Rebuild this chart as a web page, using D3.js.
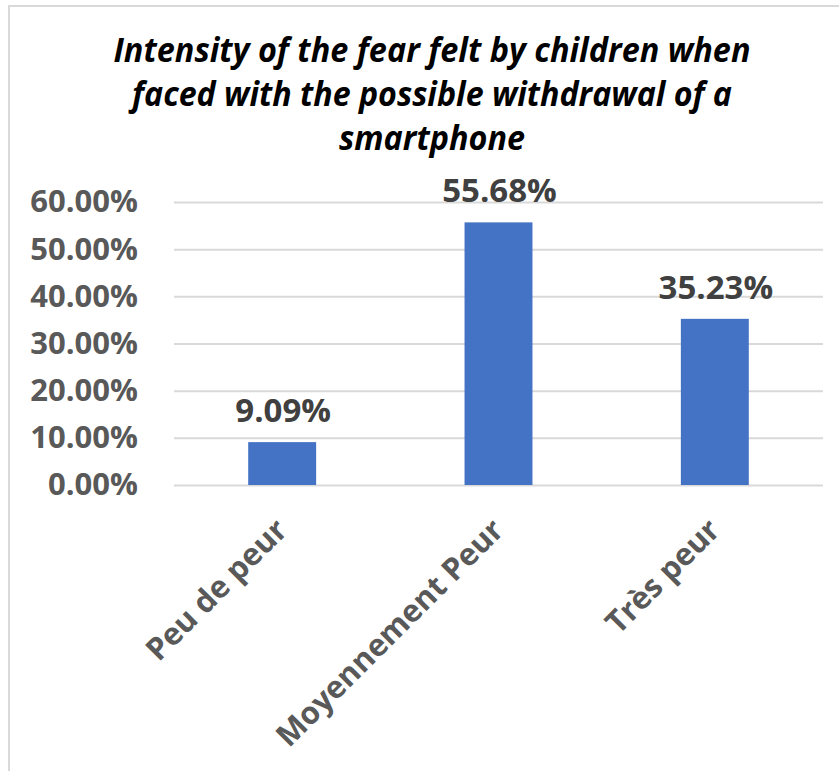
<!DOCTYPE html>
<html>
<head>
<meta charset="utf-8">
<script src="https://cdn.jsdelivr.net/npm/d3@7"></script>
<style>
  html, body { margin: 0; padding: 0; background: #fff; }
  svg { display: block; }
</style>
</head>
<body>
<svg id="chart" width="839" height="771"></svg>
<script>
// Survey answers and their shares
const categories = ["Peu de peur", "Moyennement Peur", "Très peur"];
const values = [0.0909, 0.5568, 0.3523];
const yTicks = [0, 0.1, 0.2, 0.3, 0.4, 0.5, 0.6];
const titleLines = [
  "Intensity of the fear felt by children when",
  "faced with the possible withdrawal of a",
  "smartphone"
];

const svg = d3.select("#chart");
const W = 839, H = 771;
const plot = { left: 174, right: 823, top: 202, bottom: 485 };

// Chart area frame
svg.append("rect")
  .attr("x", 9).attr("y", 6)
  .attr("width", W + 50).attr("height", H + 50)
  .attr("fill", "#fff")
  .attr("stroke", "#d9d9d9").attr("stroke-width", 2);

// Title
const titleWidths = [637, 600, 186];
svg.append("g").selectAll("text")
  .data(titleLines)
  .join("text")
  .attr("x", 432)
  .attr("y", (d, i) => 62 + i * 44)
  .attr("text-anchor", "middle")
  .attr("font-family", "'Open Sans', sans-serif")
  .attr("font-style", "italic")
  .attr("font-weight", 700)
  .attr("font-size", 34)
  .attr("fill", "#000")
  .attr("textLength", (d, i) => titleWidths[i])
  .attr("lengthAdjust", "spacingAndGlyphs")
  .text(d => d);

const x = d3.scaleBand()
  .domain(categories)
  .range([plot.left, plot.right])
  .paddingInner(0.686)
  .paddingOuter(0.343);

const y = d3.scaleLinear()
  .domain([0, 0.6])
  .range([plot.bottom, plot.top]);

// Value axis with gridlines
const yAxis = svg.append("g")
  .attr("transform", `translate(${plot.left},0)`)
  .call(d3.axisLeft(y)
    .tickValues(yTicks)
    .tickSize(-(plot.right - plot.left))
    .tickPadding(36)
    .tickFormat(d3.format(".2%")));
yAxis.select(".domain").remove();
yAxis.selectAll(".tick line")
  .attr("stroke", "#d9d9d9").attr("stroke-width", 2);
yAxis.selectAll(".tick text")
  .attr("font-family", "'Open Sans', sans-serif")
  .attr("font-weight", 700)
  .attr("font-size", 31)
  .attr("fill", "#595959");

// Bars
svg.append("g").selectAll("rect")
  .data(values)
  .join("rect")
  .attr("x", (d, i) => x(categories[i]))
  .attr("y", d => y(d))
  .attr("width", x.bandwidth())
  .attr("height", d => y(0) - y(d))
  .attr("fill", "#4472c4");

// Value labels
svg.append("g").selectAll("text")
  .data(values)
  .join("text")
  .attr("x", (d, i) => x(categories[i]) + x.bandwidth() / 2 + 1)
  .attr("y", d => y(d) - 20)
  .attr("text-anchor", "middle")
  .attr("font-family", "'Open Sans', sans-serif")
  .attr("font-weight", 700)
  .attr("font-size", 33)
  .attr("fill", "#404040")
  .text(d => d3.format(".2%")(d));

// Category axis
const xAxis = svg.append("g")
  .attr("transform", `translate(0,${plot.bottom})`)
  .call(d3.axisBottom(x).tickSize(0).tickPadding(0));
xAxis.select(".domain").remove();
xAxis.selectAll(".tick text")
  .attr("font-family", "'Open Sans', sans-serif")
  .attr("font-weight", 700)
  .attr("font-size", 31)
  .attr("fill", "#595959")
  .attr("text-anchor", "end")
  .attr("dy", null)
  .attr("y", 0)
  .attr("transform", "translate(7,47) rotate(-45)");
</script>
</body>
</html>
